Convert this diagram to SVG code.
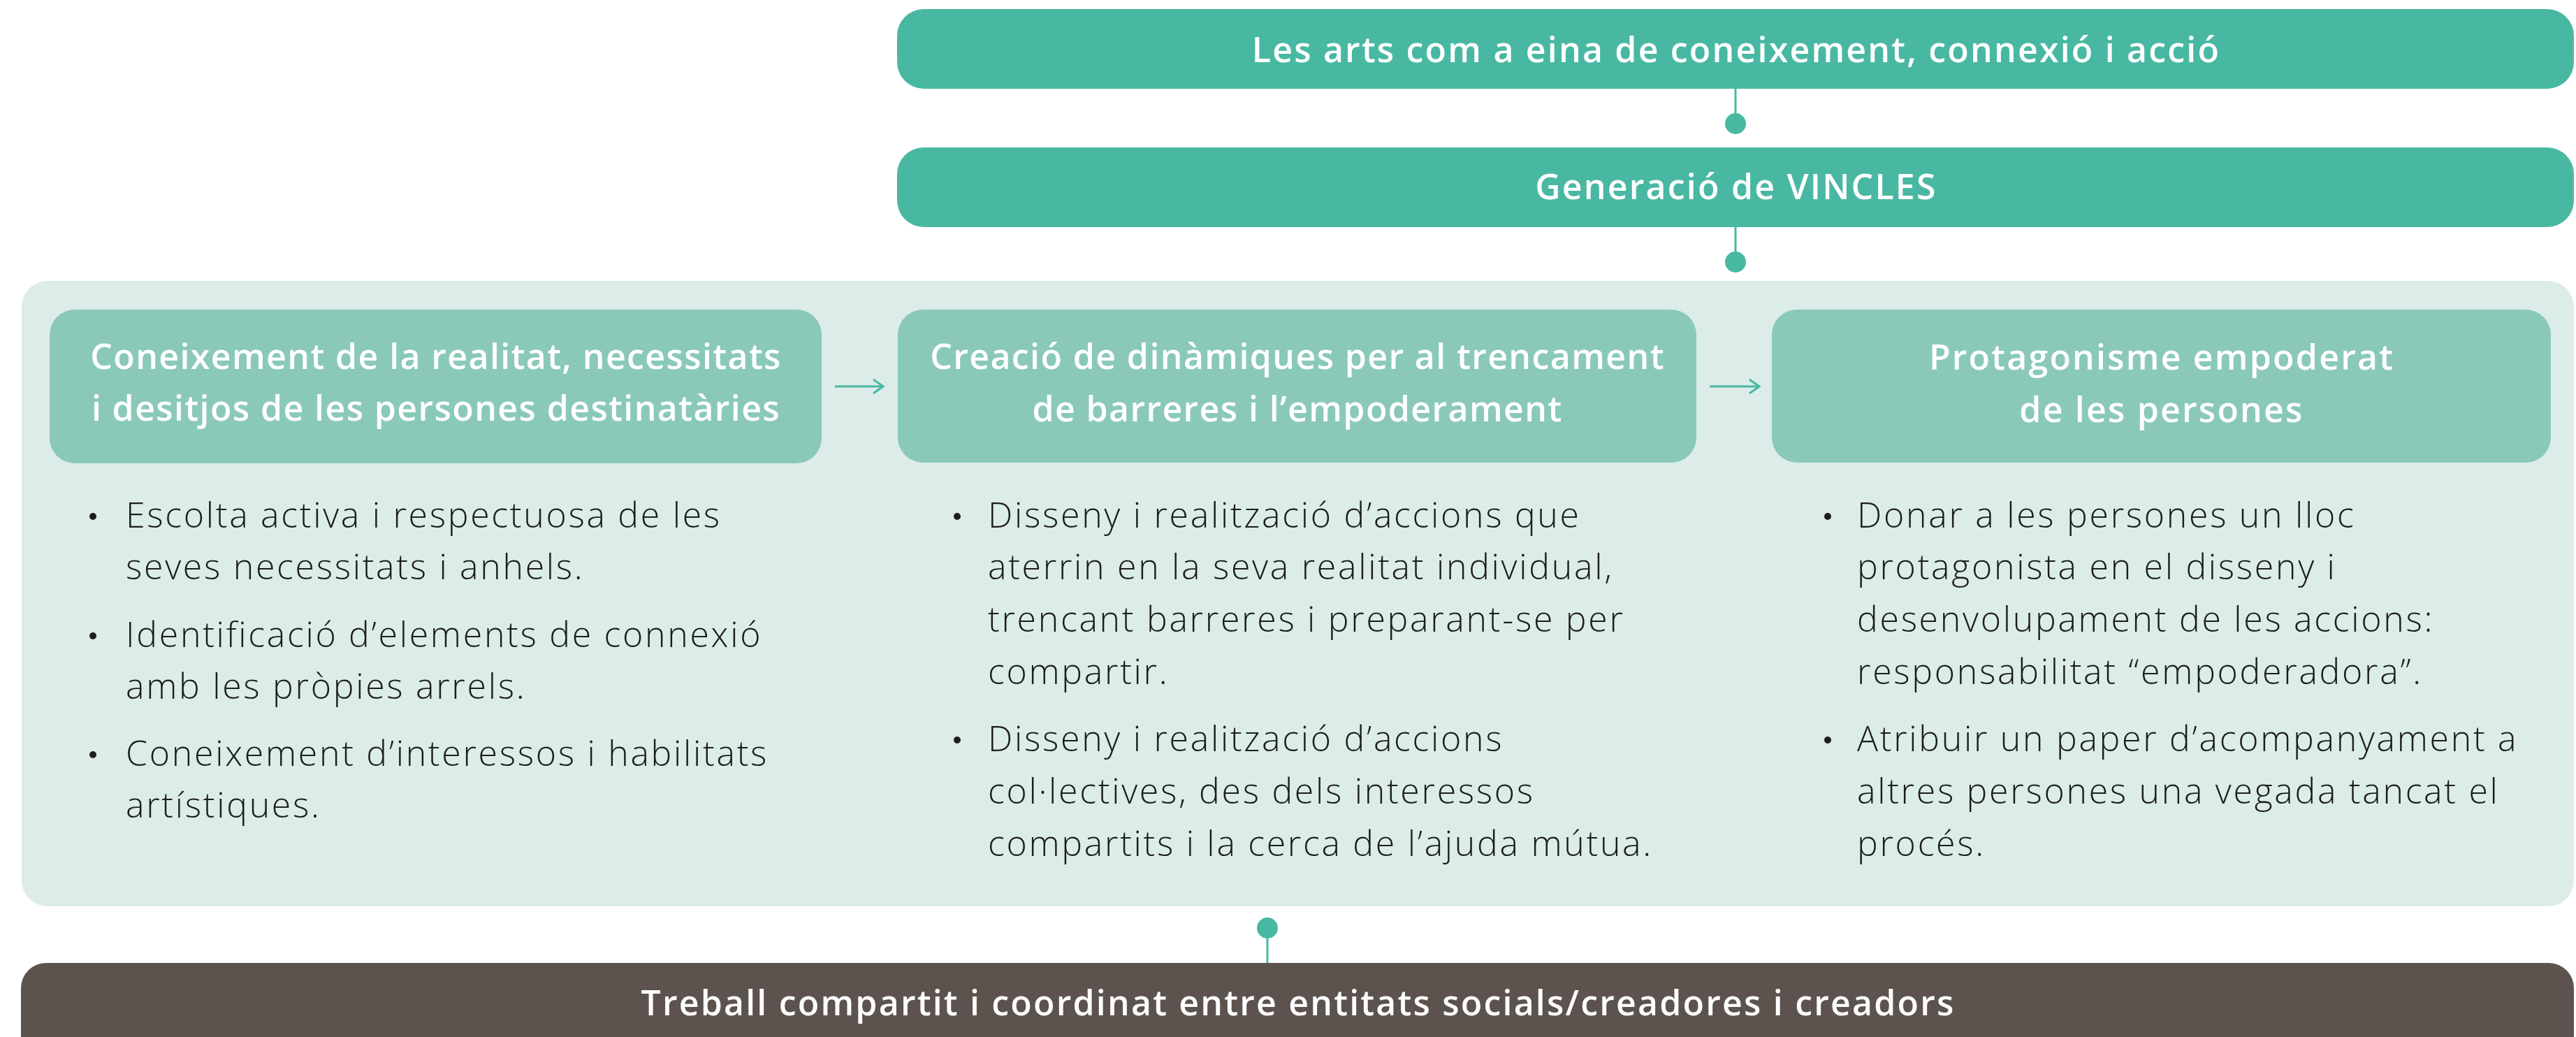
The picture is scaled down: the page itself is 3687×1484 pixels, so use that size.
<svg xmlns="http://www.w3.org/2000/svg" width="3687" height="1484" viewBox="0 0 3687 1484">
<style>
.teal{fill:#49b8a3}
.hdr{fill:#8ac9b9}
.panel{fill:#dcede9}
.dark{fill:#5d534e}
.ht{font-family:"Open Sans","Liberation Sans",sans-serif;font-size:50px;font-weight:600;letter-spacing:2.2px;fill:#ffffff;text-anchor:middle;font-variant-ligatures:none}
.st{letter-spacing:1.4px}
.bt{font-family:"Open Sans","Liberation Sans",sans-serif;font-size:50px;font-weight:300;letter-spacing:2.7px;fill:#1d1d1b;font-variant-ligatures:none}
.bul{fill:#1d1d1b}
.conn{stroke:#49b8a3;stroke-width:3;fill:none}
.dot{fill:#49b8a3}
</style>
<defs>
<marker id="arr" viewBox="0 0 20 24" refX="18" refY="12" markerWidth="20" markerHeight="24" markerUnits="userSpaceOnUse" orient="auto">
<path d="M4,2 L18,12 L4,22" fill="none" stroke="#49b8a3" stroke-width="3"/>
</marker>
</defs>
<rect width="3687" height="1484" fill="#ffffff"/>

<g id="panel">
<rect class="panel" x="31" y="402" width="3653" height="895" rx="37"/>
</g>

<g id="connectors">
<line class="conn" x1="2484" y1="127" x2="2484" y2="177"/>
<circle class="dot" cx="2484" cy="177" r="15"/>
<line class="conn" x1="2484" y1="325" x2="2484" y2="375"/>
<circle class="dot" cx="2484" cy="375" r="15"/>
<line class="conn" x1="1814" y1="1328" x2="1814" y2="1380"/>
<circle class="dot" cx="1814" cy="1328" r="15"/>
<line class="conn" x1="1195" y1="553" x2="1264" y2="553" marker-end="url(#arr)"/>
<line class="conn" x1="2447" y1="553" x2="2518" y2="553" marker-end="url(#arr)"/>
</g>

<g id="top">
<rect class="teal" x="1284" y="13" width="2400" height="114" rx="38"/>
<text class="ht" x="2485" y="89">Les arts com a eina de coneixement, connexió i acció</text>
</g>

<g id="vincles">
<rect class="teal" x="1284" y="211" width="2400" height="114" rx="38"/>
<text class="ht" x="2485" y="285">Generació de VINCLES</text>
</g>

<g id="step1">
<rect class="hdr" x="71" y="443" width="1105" height="220" rx="36"/>
<text class="ht st" x="624" y="528">Coneixement de la realitat, necessitats</text>
<text class="ht st" x="624" y="602">i desitjos de les persones destinatàries</text>
<circle class="bul" cx="133" cy="739" r="5"/>
<text class="bt" x="180" y="755">Escolta activa i respectuosa de les</text>
<text class="bt" x="180" y="829">seves necessitats i anhels.</text>
<circle class="bul" cx="133" cy="910" r="5"/>
<text class="bt" x="180" y="926">Identificació d’elements de connexió</text>
<text class="bt" x="180" y="1000">amb les pròpies arrels.</text>
<circle class="bul" cx="133" cy="1080" r="5"/>
<text class="bt" x="180" y="1096">Coneixement d’interessos i habilitats</text>
<text class="bt" x="180" y="1170">artístiques.</text>
</g>

<g id="step2">
<rect class="hdr" x="1285" y="443" width="1143" height="219" rx="36"/>
<text class="ht st" x="1857" y="528">Creació de dinàmiques per al trencament</text>
<text class="ht st" x="1857" y="603">de barreres i l’empoderament</text>
<circle class="bul" cx="1370" cy="739" r="5"/>
<text class="bt" x="1414" y="755">Disseny i realització d’accions que</text>
<text class="bt" x="1414" y="829">aterrin en la seva realitat individual,</text>
<text class="bt" x="1414" y="904">trencant barreres i preparant-se per</text>
<text class="bt" x="1414" y="979">compartir.</text>
<circle class="bul" cx="1370" cy="1059" r="5"/>
<text class="bt" x="1414" y="1075">Disseny i realització d’accions</text>
<text class="bt" x="1414" y="1150">col·lectives, des dels interessos</text>
<text class="bt" x="1414" y="1225">compartits i la cerca de l’ajuda mútua.</text>
</g>

<g id="step3">
<rect class="hdr" x="2536" y="443" width="1115" height="219" rx="36"/>
<text class="ht" x="3094" y="529">Protagonisme empoderat</text>
<text class="ht" x="3094" y="604">de les persones</text>
<circle class="bul" cx="2616" cy="739" r="5"/>
<text class="bt" x="2658" y="755">Donar a les persones un lloc</text>
<text class="bt" x="2658" y="829">protagonista en el disseny i</text>
<text class="bt" x="2658" y="904">desenvolupament de les accions:</text>
<text class="bt" x="2658" y="979">responsabilitat “empoderadora”.</text>
<circle class="bul" cx="2616" cy="1059" r="5"/>
<text class="bt" x="2658" y="1075">Atribuir un paper d’acompanyament a</text>
<text class="bt" x="2658" y="1150">altres persones una vegada tancat el</text>
<text class="bt" x="2658" y="1225">procés.</text>
</g>

<g id="bottom">
<rect class="dark" x="30" y="1378" width="3654" height="160" rx="36"/>
<text class="ht" x="1858" y="1453">Treball compartit i coordinat entre entitats socials/creadores i creadors</text>
</g>
</svg>
